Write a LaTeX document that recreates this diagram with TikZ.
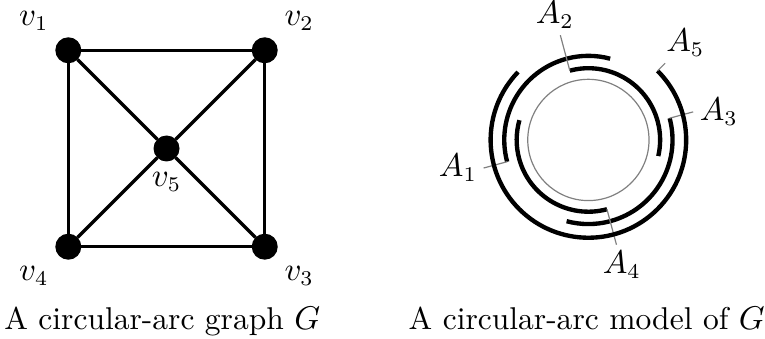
\documentclass[tikz,border=0pt]{standalone}
\usepackage{amsmath}
\usepackage{tikz}
\usetikzlibrary{calc}

\begin{document}
\begin{tikzpicture}[font=\fontsize{10.5}{12.6}\selectfont,
  vertex/.style={draw, circle, fill=black, inner sep=0pt, minimum size=0.29cm},
  edge/.style={line width=1.15pt},
  arcline/.style={line width=1.45pt},
  leader/.style={gray, line width=0.4pt}]
\useasboundingbox (-0.8,-1.07) rectangle (8.158,2.889);

% the graph G
\node[vertex, label={above left:$v_1$}] (v1) at (0,2.3) {};
\node[vertex, label={above right:$v_2$}] (v2) at (2.3,2.3) {};
\node[vertex, label={below right:$v_3$}] (v3) at (2.3,0) {};
\node[vertex, label={below left:$v_4$}] (v4) at (0,0) {};
\node[vertex, label={below:$v_5$}] (v5) at (1.15,1.15) {};

\draw[edge] (v1) -- (v2) -- (v3) -- (v4) -- (v1);
\draw[edge] (v1) -- (v5) -- (v3);
\draw[edge] (v2) -- (v5) -- (v4);

% the circular-arc model
\coordinate (c) at (6.09,1.25);
\draw[gray, line width=0.4pt] (c) circle (0.71);

\foreach \i/\r/\s/\e/\anc in {1/0.985/195/75/east, 2/0.84/105/-13/-75, 3/0.985/15/-105/west, 4/0.84/285/164/105, 5/1.145/45/-224/225} {
  \coordinate (a\i) at ($(c)+(\s:\r)$);
  \draw[arcline] (a\i) arc[start angle=\s, end angle=\e, radius=\r];
  \coordinate (t\i) at ($(c)+(\s:1.27)$);
  \draw[leader] (a\i) -- (t\i);
  \node[anchor=\anc, inner sep=2pt] (lA\i) at (t\i) {$A_\i$};
}

\node[anchor=base] (capG) at (1.1,-0.97) {A circular-arc graph $G$};
\node[anchor=base] (capM) at (6.07,-0.97) {A circular-arc model of $G$};
\end{tikzpicture}
\end{document}
